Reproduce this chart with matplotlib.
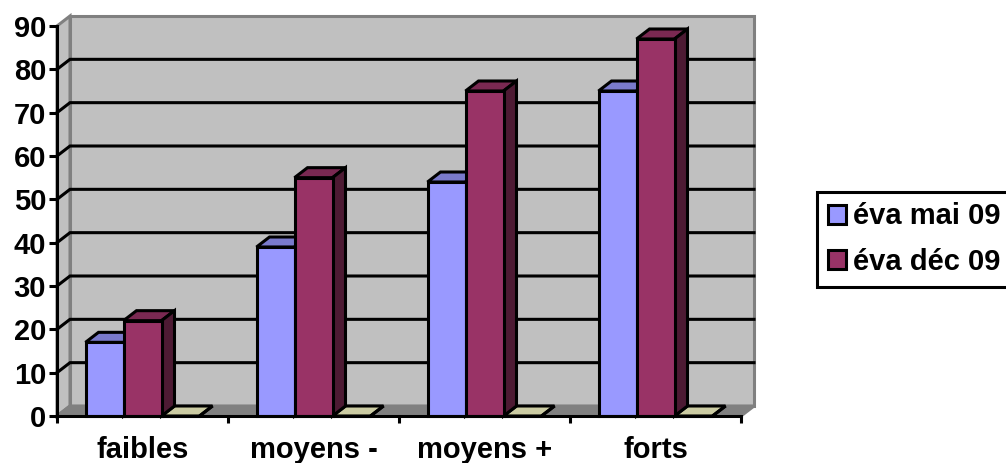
import matplotlib
matplotlib.use("Agg")
import matplotlib.pyplot as plt
from matplotlib.patches import Patch

# Survey results per group, two evaluations plus an empty third series
categories = ["faibles", "moyens -", "moyens +", "forts"]
eva_mai = [17, 39, 54, 75]
eva_dec = [22, 55, 75, 87]
serie_vide = [0, 0, 0, 0]
y_ticks = [0, 10, 20, 30, 40, 50, 60, 70, 80, 90]
legend_labels = ["éva mai 09", "éva déc 09"]

plt.rcParams["font.family"] = ["Liberation Sans", "DejaVu Sans"]
plt.rcParams["font.weight"] = "bold"

W, H = 1006, 463
fig = plt.figure(figsize=(W / 100, H / 100), dpi=100, facecolor="white")
ax = fig.add_axes([57 / W, (H - 416) / H, 684 / W, 390 / H])
ax.set_xlim(0, 4)
ax.set_ylim(0, 90)
ax.patch.set_visible(False)

# depth of the fake 3D effect, in data units
dx = 4 * 13 / 684
dy = 90 * 10 / 390
GRAY = "#808080"
WALL = "#C0C0C0"
LW = 2.2

# back wall, side wall, floor
ax.fill([dx, 4 + dx, 4 + dx, dx], [dy, dy, 90 + dy, 90 + dy], fc=WALL, ec=GRAY, lw=LW, zorder=1, clip_on=False)
ax.fill([0, dx, dx, 0], [0, dy, 90 + dy, 90], fc=WALL, ec=GRAY, lw=LW, zorder=1, clip_on=False)
ax.fill([0, 4, 4 + dx, dx], [0, 0, dy, dy], fc=GRAY, ec=GRAY, lw=LW, zorder=2, clip_on=False)

# gridlines run along the side wall then across the back
for v in y_ticks[1:-1]:
    ax.plot([0, dx, 4 + dx], [v, v + dy, v + dy], color="black", lw=LW, zorder=3, clip_on=False, solid_joinstyle="miter")


def draw_series(values, offset, front, top, side, z):
    width = 1 / 4.5
    xs = [i + 0.5 + offset * width for i in range(len(values))]
    for x, v in zip(xs, values):
        x0, x1 = x - width / 2, x + width / 2
        ax.fill([x0, x0 + dx, x1 + dx, x1], [v, v + dy, v + dy, v], fc=top, ec="black", lw=LW,
                zorder=z, clip_on=False, joinstyle="miter")
        ax.fill([x1, x1 + dx, x1 + dx, x1], [0, dy, v + dy, v], fc=side, ec="black", lw=LW,
                zorder=z, clip_on=False, joinstyle="miter")
    ax.bar(xs, values, width=width, color=front, edgecolor="black", linewidth=LW, zorder=z + 0.1, clip_on=False)


draw_series(serie_vide, 1, "#FFFFCC", "#CCCCA3", "#CCCCA3", 4)
draw_series(eva_mai, -1, "#9999FF", "#7A7ACC", "#5C5C99", 5)
draw_series(eva_dec, 0, "#993366", "#7A2952", "#4D1A33", 6)

for s in ["top", "right"]:
    ax.spines[s].set_visible(False)
for s in ["left", "bottom"]:
    ax.spines[s].set_linewidth(LW)
    ax.spines[s].set_zorder(8)

ax.set_yticks(y_ticks)
ax.set_xticks(range(5))
ax.set_xticklabels([])
ax.set_xticks([i + 0.5 for i in range(4)], minor=True)
ax.set_xticklabels(categories, minor=True)
ax.tick_params(axis="y", which="major", length=5.8, width=LW, labelsize=21, pad=2)
ax.tick_params(axis="x", which="major", length=5.2, width=LW)
ax.tick_params(axis="x", which="minor", length=0, labelsize=21, pad=14.5)

handles = [Patch(fc="#9999FF", ec="black", lw=LW), Patch(fc="#993366", ec="black", lw=LW)]
fig.legend(handles, legend_labels, loc="upper left", bbox_to_anchor=(817 / W, 1 - 192 / H),
           bbox_transform=fig.transFigure, borderaxespad=0, fontsize=21, frameon=True, fancybox=False,
           edgecolor="black", framealpha=1, handlelength=0.62, handleheight=0.65, handletextpad=0.27,
           borderpad=0.36, labelspacing=0.6).get_frame().set_linewidth(LW)

fig.savefig("out.png", dpi=100, facecolor="white")
